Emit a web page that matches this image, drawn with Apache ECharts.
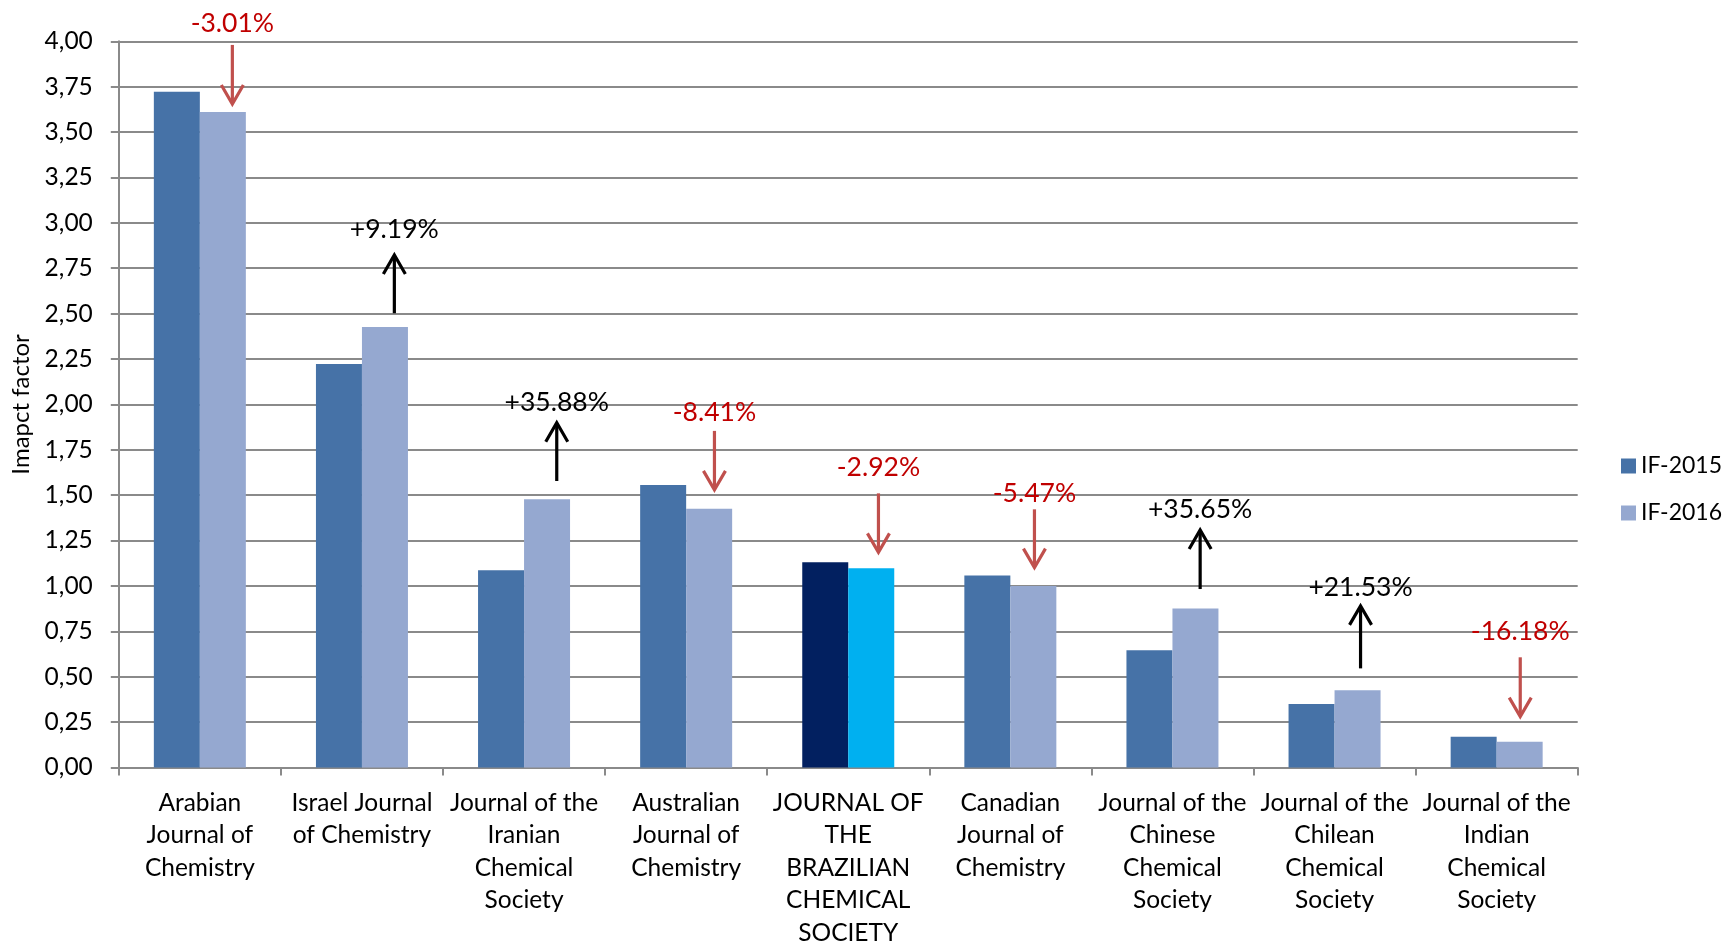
<!DOCTYPE html>
<html>
<head>
<meta charset="utf-8">
<script src="https://cdn.jsdelivr.net/npm/echarts@6/dist/echarts.min.js"></script>
<style>
html,body{margin:0;padding:0;background:#fff;}
#chart{width:1725px;height:944px;}
</style>
</head>
<body>
<div id="chart"></div>
<script>
// ---- data ----
const categories = [
  'Arabian\nJournal of\nChemistry',
  'Israel Journal\nof Chemistry',
  'Journal of the\nIranian\nChemical\nSociety',
  'Australian\nJournal of\nChemistry',
  'JOURNAL OF\nTHE\nBRAZILIAN\nCHEMICAL\nSOCIETY',
  'Canadian\nJournal of\nChemistry',
  'Journal of the\nChinese\nChemical\nSociety',
  'Journal of the\nChilean\nChemical\nSociety',
  'Journal of the\nIndian\nChemical\nSociety'
];
const if2015 = [3.722, 2.222, 1.087, 1.556, 1.130, 1.058, 0.646, 0.350, 0.170];
const if2016 = [3.610, 2.426, 1.477, 1.425, 1.097, 1.000, 0.876, 0.425, 0.142];
const changeLabels = ['-3.01%', '+9.19%', '+35.88%', '-8.41%', '-2.92%', '-5.47%', '+35.65%', '+21.53%', '-16.18%'];
// annotation anchors (value units on the y axis)
const arrowFrom = [3.980, 2.502, 1.578, 1.854, 1.510, 1.422, 0.983, 0.546, 0.607];
const arrowTo   = [3.655, 2.823, 1.899, 1.529, 1.185, 1.101, 1.308, 0.890, 0.280];
const labelAt   = [4.100, 2.965, 2.010, 1.954, 1.650, 1.508, 1.421, 0.993, 0.750];
const yTicks = { min: 0, max: 4, interval: 0.25 };
const highlightIndex = 4;

// ---- styles ----
const BAR_W = 46;
const arrowShiftPx = [9.5, 9.4, 9.7, 5.3, 7.2, 1.1, 4.7, 3, 0.6];
const C15 = '#4672A7', C16 = '#95A8D0';
const H15 = '#022060', H16 = '#00B0F0';
const FONT = 'Lato';
const GRIDC = '#8a8a8a';

const chart = echarts.init(document.getElementById('chart'), null, {renderer: 'canvas'});

const d15 = if2015.map((v, i) => i === highlightIndex ? {value: v, itemStyle: {color: H15}} : v);
const d16 = if2016.map((v, i) => i === highlightIndex ? {value: v, itemStyle: {color: H16}} : v);
const annData = changeLabels.map((t, i) => [i, arrowFrom[i], arrowTo[i], labelAt[i]]);

chart.setOption({
  animation: false,
  backgroundColor: '#fff',
  textStyle: {fontFamily: FONT},
  grid: {left: 118.8, right: 147.3, top: 41.3, bottom: 176.5, containLabel: false, outerBoundsMode: 'none'},
  legend: {
    orient: 'vertical',
    left: 1616, top: 449,
    padding: 5,
    icon: 'rect',
    itemWidth: 15, itemHeight: 15,
    itemGap: 23,
    data: ['IF-2015', 'IF-2016'],
    textStyle: {fontFamily: FONT, fontSize: 23, color: '#000', lineHeight: 24}
  },
  xAxis: {
    type: 'category',
    data: categories,
    boundaryGap: true,
    axisLine: {show: true, lineStyle: {color: GRIDC, width: 2}},
    axisTick: {show: true, length: 8, lineStyle: {color: GRIDC, width: 2}, alignWithLabel: false},
    axisLabel: {interval: 0, margin: 19, fontFamily: FONT, fontSize: 24.5, color: '#000', lineHeight: 32.5, align: 'center', hideOverlap: false},
    splitLine: {show: false}
  },
  yAxis: {
    type: 'value',
    min: yTicks.min, max: yTicks.max, interval: yTicks.interval,
    name: 'Imapct factor',
    nameLocation: 'middle',
    nameRotate: 90,
    nameGap: 84,
    nameTextStyle: {fontFamily: FONT, fontSize: 24, color: '#000'},
    axisLine: {show: true, lineStyle: {color: GRIDC, width: 2}},
    axisTick: {show: true, length: 8, lineStyle: {color: GRIDC, width: 2}},
    axisLabel: {margin: 26, fontFamily: FONT, fontSize: 24.5, color: '#000',
      formatter: v => v.toFixed(2).replace('.', ',')},
    splitLine: {show: true, lineStyle: {color: GRIDC, width: 2}}
  },
  series: [
    {name: 'IF-2015', type: 'bar', data: d15, barWidth: BAR_W, barGap: '0%', itemStyle: {color: C15}},
    {name: 'IF-2016', type: 'bar', data: d16, barWidth: BAR_W, barGap: '0%', itemStyle: {color: C16}},
    {
      name: 'change', type: 'custom', data: annData, clip: false, silent: true, z: 10,
      renderItem: function (params, api) {
        const i = api.value(0);
        const p1 = api.coord([i, api.value(1)]);
        const p2 = api.coord([i, api.value(2)]);
        const pt = api.coord([i, api.value(3)]);
        const x = p1[0] + BAR_W / 2 + arrowShiftPx[i];
        const y1 = p1[1], y2 = p2[1];
        const up = y2 < y1;
        const neg = changeLabels[i].charAt(0) === '-';
        const col = neg ? '#C0504D' : '#000000';
        const txtCol = neg ? '#C00000' : '#000000';
        const hh = 19, hw = 11;
        const hy = up ? y2 + hh : y2 - hh;
        return {
          type: 'group',
          children: [
            {type: 'line', shape: {x1: x, y1: y1, x2: x, y2: y2 + (up ? 1 : -1)},
              style: {stroke: col, lineWidth: 3.2, lineCap: 'butt'}},
            {type: 'polyline', shape: {points: [[x - hw, hy], [x, y2], [x + hw, hy]]},
              style: {stroke: col, lineWidth: 3.2, fill: null, lineJoin: 'miter', lineCap: 'butt'}},
            {type: 'text', x: x, y: pt[1],
              style: {text: changeLabels[i], fill: txtCol, font: '26.5px ' + FONT, align: 'center', verticalAlign: 'middle'}}
          ]
        };
      }
    }
  ]
});
</script>
</body>
</html>
